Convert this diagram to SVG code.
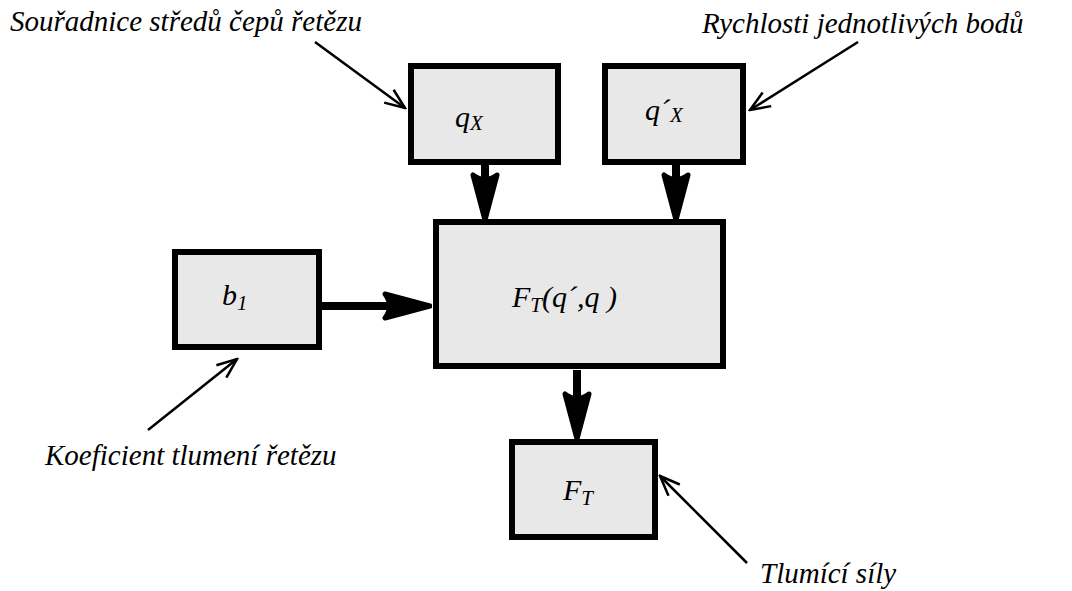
<svg xmlns="http://www.w3.org/2000/svg" width="1072" height="591" viewBox="0 0 1072 591">
<defs>
<marker id="head" markerUnits="userSpaceOnUse" viewBox="0 0 52 32" refX="25" refY="16" markerWidth="52" markerHeight="32" orient="auto">
<path d="M50,16 L5,4 Q14,16 5,28 Z" fill="#000" stroke="#000" stroke-width="5" stroke-linejoin="round"/>
</marker>
<marker id="open" markerUnits="userSpaceOnUse" viewBox="0 0 24 20" refX="22" refY="10" markerWidth="24" markerHeight="20" orient="auto">
<path d="M2,2 L22,10 L2,18" fill="none" stroke="#000" stroke-width="2.5"/>
</marker>
</defs>
<rect width="1072" height="591" fill="#fff"/>
<g id="connectors" fill="none" stroke="#000">
<g stroke-width="8">
<line x1="485" y1="165" x2="485" y2="195" marker-end="url(#head)"/>
<line x1="676" y1="165" x2="676" y2="195" marker-end="url(#head)"/>
<line x1="322" y1="306" x2="405" y2="306" marker-end="url(#head)"/>
<line x1="577" y1="370" x2="577" y2="414" marker-end="url(#head)"/>
</g>
<g stroke-width="2.5">
<line x1="315" y1="42" x2="405" y2="108" marker-end="url(#open)"/>
<line x1="858" y1="42" x2="750" y2="110" marker-end="url(#open)"/>
<line x1="148" y1="430" x2="237" y2="359" marker-end="url(#open)"/>
<line x1="747" y1="563" x2="660" y2="476" marker-end="url(#open)"/>
</g>
</g>
<g id="node-qx">
<rect x="411" y="66" width="147" height="96" fill="#e8e8e8" stroke="#000" stroke-width="6"/>
<text x="455" y="127" font-family="Times New Roman, serif" font-style="italic" font-size="30" fill="#000">q<tspan font-size="21" dy="3">X</tspan></text>
</g>
<g id="node-qdx">
<rect x="605" y="66" width="138" height="96" fill="#e8e8e8" stroke="#000" stroke-width="6"/>
<text x="645" y="120" font-family="Times New Roman, serif" font-style="italic" font-size="30" fill="#000">q´<tspan font-size="21" dy="2">X</tspan></text>
</g>
<g id="node-main">
<rect x="436" y="222" width="287" height="144" fill="#e8e8e8" stroke="#000" stroke-width="6"/>
<text x="512" y="307" font-family="Times New Roman, serif" font-style="italic" font-size="30" fill="#000">F<tspan font-size="21" dy="5">T</tspan><tspan dy="-5">(q´,q )</tspan></text>
</g>
<g id="node-b1">
<rect x="175" y="252" width="144" height="95" fill="#e8e8e8" stroke="#000" stroke-width="6"/>
<text x="222" y="305" font-family="Times New Roman, serif" font-style="italic" font-size="30" fill="#000">b<tspan font-size="21" dy="5">1</tspan></text>
</g>
<g id="node-ft">
<rect x="512" y="442" width="143" height="95" fill="#e8e8e8" stroke="#000" stroke-width="6"/>
<text x="563" y="500" font-family="Times New Roman, serif" font-style="italic" font-size="30" fill="#000">F<tspan font-size="21" dy="5">T</tspan></text>
</g>
<g id="labels">
<text x="10" y="31" font-family="Times New Roman, serif" font-style="italic" font-size="29" fill="#000">Souřadnice středů čepů řetězu</text>
<text x="702" y="33" font-family="Times New Roman, serif" font-style="italic" font-size="29" fill="#000">Rychlosti jednotlivých bodů</text>
<text x="45" y="465" font-family="Times New Roman, serif" font-style="italic" font-size="29" fill="#000">Koeficient tlumení řetězu</text>
<text x="760" y="583" font-family="Times New Roman, serif" font-style="italic" font-size="29" fill="#000">Tlumící síly</text>
</g>
</svg>
